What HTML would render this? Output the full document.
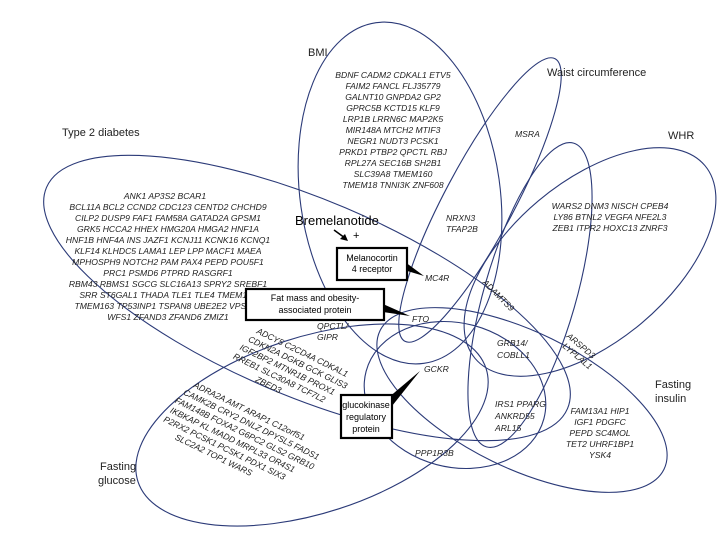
<!DOCTYPE html>
<html><head><meta charset="utf-8"><style>
html,body{margin:0;padding:0;background:#fff}
svg{display:block}
.g{font-family:"Liberation Sans",sans-serif;font-size:8.6px;font-style:italic;fill:#222}
.l{font-family:"Liberation Sans",sans-serif;font-size:11px;fill:#222}
.b{font-family:"Liberation Sans",sans-serif;font-size:9px;fill:#000}
</style></head><body>
<svg width="720" height="540" viewBox="0 0 720 540" xmlns="http://www.w3.org/2000/svg">
<g fill="none" stroke="#2b3a78" stroke-width="1.1">
<ellipse cx="307" cy="298" rx="283" ry="98" transform="rotate(23 307 298)"/>
<ellipse cx="400" cy="193" rx="100" ry="172" transform="rotate(-8 400 193)"/>
<ellipse cx="480" cy="200" rx="160" ry="35" transform="rotate(-62 480 200)"/>
<ellipse cx="530" cy="295" rx="46" ry="158" transform="rotate(16 530 295)"/>
<ellipse cx="590" cy="262" rx="150" ry="80" transform="rotate(-40 590 262)"/>
<ellipse cx="522" cy="400" rx="158" ry="68" transform="rotate(26 522 400)"/>
<ellipse cx="312" cy="425" rx="183" ry="88" transform="rotate(-18 312 425)"/>
<ellipse cx="455" cy="395" rx="92" ry="72" transform="rotate(15 455 395)"/>
</g>
<text class="l" x="62" y="136">Type 2 diabetes</text>
<text class="l" x="308" y="56">BMI</text>
<text class="l" x="547" y="76">Waist circumference</text>
<text class="l" x="668" y="139">WHR</text>
<text class="l" x="655" y="388">Fasting</text>
<text class="l" x="655" y="402">insulin</text>
<text class="l" x="100" y="470">Fasting</text>
<text class="l" x="98" y="484">glucose</text>
<g class="g" text-anchor="middle">
<text x="165" y="199">ANK1 AP3S2 BCAR1</text>
<text x="168" y="210">BCL11A BCL2 CCND2 CDC123 CENTD2 CHCHD9</text>
<text x="168" y="221">CILP2 DUSP9 FAF1 FAM58A GATAD2A GPSM1</text>
<text x="168" y="232">GRK5 HCCA2 HHEX HMG20A HMGA2 HNF1A</text>
<text x="168" y="243">HNF1B HNF4A INS JAZF1 KCNJ11 KCNK16 KCNQ1</text>
<text x="168" y="254">KLF14 KLHDC5 LAMA1 LEP LPP MACF1 MAEA</text>
<text x="168" y="265">MPHOSPH9 NOTCH2 PAM PAX4 PEPD POU5F1</text>
<text x="168" y="276">PRC1 PSMD6 PTPRD RASGRF1</text>
<text x="168" y="287">RBM43 RBMS1 SGCG SLC16A13 SPRY2 SREBF1</text>
<text x="168" y="298">SRR ST6GAL1 THADA TLE1 TLE4 TMEM154</text>
<text x="168" y="309">TMEM163 TP53INP1 TSPAN8 UBE2E2 VPS26A</text>
<text x="168" y="320">WFS1 ZFAND3 ZFAND6 ZMIZ1</text>
<text x="393" y="78">BDNF CADM2 CDKAL1 ETV5</text>
<text x="393" y="89">FAIM2 FANCL FLJ35779</text>
<text x="393" y="100">GALNT10 GNPDA2 GP2</text>
<text x="393" y="111">GPRC5B KCTD15 KLF9</text>
<text x="393" y="122">LRP1B LRRN6C MAP2K5</text>
<text x="393" y="133">MIR148A MTCH2 MTIF3</text>
<text x="393" y="144">NEGR1 NUDT3 PCSK1</text>
<text x="393" y="155">PRKD1 PTBP2 QPCTL RBJ</text>
<text x="393" y="166">RPL27A SEC16B SH2B1</text>
<text x="393" y="177">SLC39A8 TMEM160</text>
<text x="393" y="188">TMEM18 TNNI3K ZNF608</text>
<text x="610" y="209">WARS2 DNM3 NISCH CPEB4</text>
<text x="610" y="220">LY86 BTNL2 VEGFA NFE2L3</text>
<text x="610" y="231">ZEB1 ITPR2 HOXC13 ZNRF3</text>
<text x="600" y="414">FAM13A1 HIP1</text>
<text x="600" y="425">IGF1 PDGFC</text>
<text x="600" y="436">PEPD SC4MOL</text>
<text x="600" y="447">TET2 UHRF1BP1</text>
<text x="600" y="458">YSK4</text>
</g>
<g class="g">
<text x="515" y="137">MSRA</text>
<text x="446" y="221">NRXN3</text>
<text x="446" y="232">TFAP2B</text>
<text x="425" y="281">MC4R</text>
<text x="412" y="322">FTO</text>
<text x="317" y="329">QPCTL/</text>
<text x="317" y="340">GIPR</text>
<text x="497" y="346">GRB14/</text>
<text x="497" y="358">COBLL1</text>
<text x="424" y="372">GCKR</text>
<text x="495" y="407">IRS1 PPARG</text>
<text x="495" y="419">ANKRD55</text>
<text x="495" y="431">ARL15</text>
<text x="415" y="456">PPP1R3B</text>
<text transform="translate(482,283) rotate(45)">ADAMTS9</text>
<text transform="translate(566,337) rotate(40)">ARSPD3</text>
<text transform="translate(562,347) rotate(40)">LYPLAL1</text>
</g>
<g class="g" transform="translate(256,333) rotate(26)">
<text x="0" y="0">ADCY5 C2CD4A CDKAL1</text>
<text x="-4" y="11">CDKN2A DGKB GCK GLIS3</text>
<text x="-8" y="22">IGF2BP2 MTNR1B PROX1</text>
<text x="-10" y="33">RREB1 SLC30A8 TCF7L2</text>
<text x="20" y="44">ZBED3</text>
</g>
<g class="g" transform="translate(193,387) rotate(26)">
<text x="0" y="0">ADRA2A AMT ARAP1 C12orf51</text>
<text x="-6" y="11">CAMK2B CRY2 DNLZ DPYSL5 FADS1</text>
<text x="-10" y="22">FAM148B FOXA2 G6PC2 GLS2 GRB10</text>
<text x="-10" y="33">IKBKAP KL MADD MRPL33 OR4S1</text>
<text x="-12" y="44">P2RX2 PCSK1 PCSK1 PDX1 SIX3</text>
<text x="6" y="55">SLC2A2 TOP1 WARS</text>
</g>
<text x="295" y="225" font-family="Liberation Sans,sans-serif" font-size="13" fill="#000">Bremelanotide</text>
<line x1="334" y1="230" x2="345" y2="238" stroke="#000" stroke-width="1.5"/>
<polygon points="348,241 340,239 345,234" fill="#000"/>
<text x="353" y="239" font-family="Liberation Sans,sans-serif" font-size="11" fill="#000">+</text>
<polygon points="405,262 424,276 404,270" fill="#000"/>
<polygon points="383,304 410,316 383,312" fill="#000"/>
<polygon points="388,398 420,371 392,406" fill="#000"/>
<rect x="337" y="248" width="70" height="32" fill="#fff" stroke="#000" stroke-width="2.2"/>
<text class="b" x="372" y="261" text-anchor="middle">Melanocortin</text>
<text class="b" x="372" y="272" text-anchor="middle">4 receptor</text>
<rect x="246" y="289" width="138" height="31" fill="#fff" stroke="#000" stroke-width="2.2"/>
<text class="b" x="315" y="301" text-anchor="middle">Fat mass and obesity-</text>
<text class="b" x="315" y="313" text-anchor="middle">associated protein</text>
<rect x="341" y="395" width="51" height="43" fill="#fff" stroke="#000" stroke-width="2.2"/>
<text class="b" x="366" y="408" text-anchor="middle" font-size="8.5">glucokinase</text>
<text class="b" x="366" y="420" text-anchor="middle" font-size="8.5">regulatory</text>
<text class="b" x="366" y="432" text-anchor="middle" font-size="8.5">protein</text>
</svg>
</body></html>
